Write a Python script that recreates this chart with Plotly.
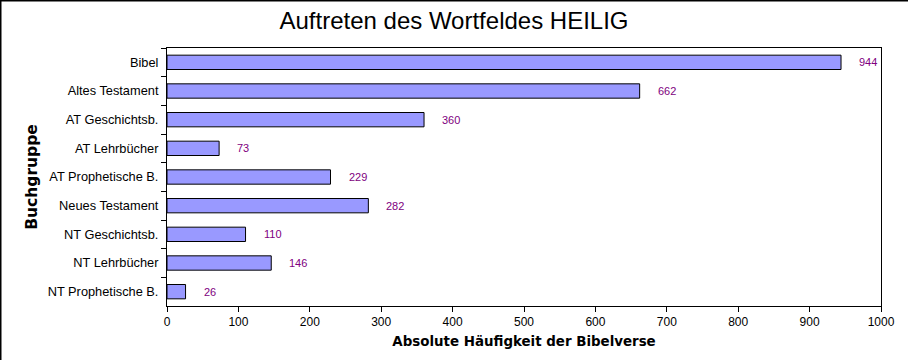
import plotly.graph_objects as go

categories = ["Bibel", "Altes Testament", "AT Geschichtsb.", "AT Lehrbücher",
              "AT Prophetische B.", "Neues Testament", "NT Geschichtsb.",
              "NT Lehrbücher", "NT Prophetische B."]
values = [944, 662, 360, 73, 229, 282, 110, 146, 26]
x_ticks = [0, 100, 200, 300, 400, 500, 600, 700, 800, 900, 1000]

W, H = 908, 360
ML, MR, MT, MB = 167, 27, 48, 54
PW, PH = W - ML - MR, H - MT - MB

fig = go.Figure()
fig.add_trace(go.Bar(
    x=values, y=categories, orientation="h",
    marker=dict(color="#9999FF", line=dict(color="black", width=1)),
    width=0.5,
))

for c, v in zip(categories, values):
    fig.add_annotation(x=v, y=c, text=str(v), showarrow=False, xanchor="left",
                       xshift=16, font=dict(family="Liberation Sans, Arial", size=11, color="#800080"))

# outer frame (top and left edges)
fig.add_shape(type="line", xref="paper", yref="paper",
              x0=-ML / PW, x1=(PW + MR) / PW, y0=1 + MT / PH - 0.5 / PH, y1=1 + MT / PH - 0.5 / PH,
              line=dict(color="black", width=2))
fig.add_shape(type="line", xref="paper", yref="paper",
              x0=-ML / PW + 0.5 / PW, x1=-ML / PW + 0.5 / PW, y0=-MB / PH, y1=1 + MT / PH,
              line=dict(color="black", width=2))

fig.update_layout(
    width=W, height=H,
    margin=dict(l=ML, r=MR, t=MT, b=MB),
    paper_bgcolor="white", plot_bgcolor="white",
    showlegend=False,
    title=dict(text="Auftreten des Wortfeldes HEILIG", x=0.5, xref="container", xanchor="center",
               y=1 - 21 / H, yref="container", yanchor="middle",
               font=dict(family="Liberation Sans, Arial", size=24, color="black")),
    xaxis=dict(range=[0, 1000], tickvals=x_ticks, ticks="outside", ticklen=5,
               tickcolor="black", showgrid=False, zeroline=False,
               showline=True, linecolor="black", linewidth=1, mirror=True,
               tickfont=dict(family="Liberation Sans, Arial", size=12, color="black"),
               title=dict(text="Absolute Häufigkeit der Bibelverse", standoff=8,
                          font=dict(family="DejaVu Sans", size=13.4, color="black", weight="bold"))),
    yaxis=dict(autorange="reversed", type="category", tickson="boundaries",
               ticks="outside", ticklen=5, tickcolor="black", showgrid=False,
               showline=True, linecolor="black", linewidth=1, mirror=True,
               ticklabelstandoff=5,
               tickfont=dict(family="Liberation Sans, Arial", size=12.8, color="black"),
               title=dict(text="Buchgruppe", standoff=6,
                          font=dict(family="DejaVu Sans", size=15.5, color="black", weight="bold"))),
)

fig.write_html("out.html", config={"displayModeBar": False},
               post_script="document.body.style.margin='0';document.body.style.overflow='hidden';")
